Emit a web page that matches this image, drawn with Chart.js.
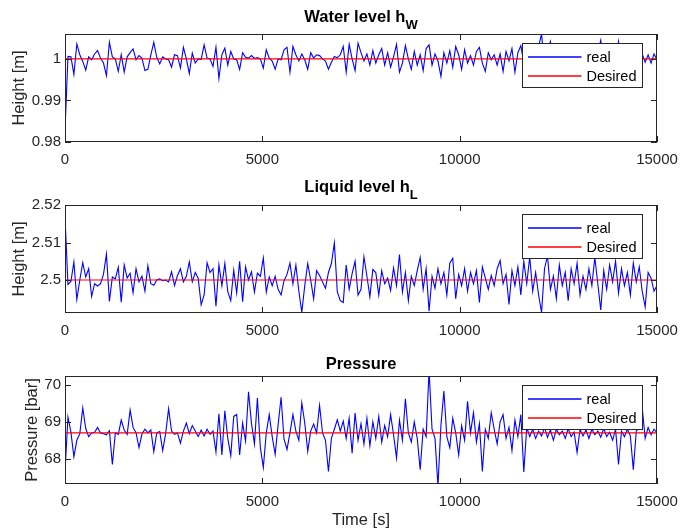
<!DOCTYPE html>
<html>
<head>
<meta charset="utf-8">
<script src="https://cdn.jsdelivr.net/npm/chart.js@4.4.1/dist/chart.umd.min.js"></script>
<style>
  html, body { margin: 0; padding: 0; background: #fff; }
  #wrap { position: relative; width: 681px; height: 532px; overflow: hidden; }
  canvas { position: absolute; left: 0; }
</style>
</head>
<body>
<div id="wrap">
  <canvas id="c1" width="681" height="175" style="top:0px"></canvas>
  <canvas id="c2" width="681" height="170" style="top:175px"></canvas>
  <canvas id="c3" width="681" height="187" style="top:345px"></canvas>
</div>
<script>
// samples every 75 s from 0 to 15000 s
var timeStep = 75;
var xTicks = [0, 5000, 10000, 15000];
var setpointTimes = [0, 15000];

var waterTicks = [0.98, 0.99, 1];
var waterDesired = [1, 1];
var waterLevel = [
  0.9828, 1.0006, 1.0005, 0.9963, 1.0036, 1.0010, 0.9994, 0.9973, 1.0005, 0.9998,
  1.0012, 1.0020, 1.0002, 0.9990, 0.9960, 1.0040, 1.0005, 1.0000, 0.9970, 1.0010,
  0.9968, 1.0005, 1.0015, 1.0024, 0.9998, 1.0008, 1.0002, 0.9972, 0.9975, 1.0010,
  1.0040, 1.0004, 0.9988, 1.0005, 1.0000, 0.9998, 0.9980, 1.0010, 1.0008, 0.9978,
  1.0028, 1.0000, 0.9965, 1.0014, 0.9990, 1.0000, 0.9999, 1.0034, 1.0002, 1.0000,
  0.9982, 1.0028, 0.9953, 1.0010, 1.0026, 0.9985, 1.0018, 1.0000, 0.9998, 0.9975,
  1.0015, 1.0004, 1.0002, 1.0008, 1.0001, 1.0003, 1.0000, 0.9978, 1.0022, 1.0002,
  0.9995, 0.9975, 1.0000, 0.9998, 1.0022, 1.0028, 0.9968, 1.0030, 1.0010, 0.9995,
  1.0012, 0.9998, 0.9975, 1.0015, 1.0002, 1.0010, 1.0008, 1.0000, 0.9995, 0.9975,
  0.9992, 1.0006, 1.0003, 1.0010, 1.0030, 0.9968, 1.0035, 1.0000, 0.9972, 1.0038,
  1.0015, 0.9995, 1.0012, 0.9985, 1.0020, 0.9990, 1.0010, 1.0025, 0.9985, 1.0015,
  0.9980, 1.0005, 1.0035, 0.9968, 0.9990, 1.0032, 1.0000, 0.9975, 1.0018, 0.9985,
  1.0010, 0.9972, 1.0025, 1.0034, 0.9985, 1.0012, 0.9995, 0.9958, 1.0015, 0.9990,
  1.0020, 0.9980, 1.0030, 1.0010, 0.9975, 1.0022, 0.9990, 1.0008, 0.9985, 1.0018,
  1.0028, 0.9990, 0.9970, 1.0015, 0.9998, 1.0010, 0.9985, 1.0012, 0.9970, 1.0018,
  0.9995, 1.0025, 0.9968, 1.0015, 1.0032, 0.9990, 1.0015, 0.9980, 1.0020, 0.9990,
  1.0030, 1.0060, 0.9985, 1.0020, 1.0042, 0.9985, 1.0015, 0.9975, 1.0025, 0.9990,
  1.0012, 0.9980, 1.0020, 0.9995, 1.0025, 0.9975, 1.0010, 0.9990, 1.0030, 0.9985,
  1.0015, 1.0045, 0.9990, 1.0010, 0.9980, 1.0020, 0.9995, 1.0042, 0.9985, 1.0015,
  0.9990, 1.0020, 0.9980, 1.0010, 0.9995, 1.0012, 0.9992, 1.0010, 0.9990, 1.0012,
  0.9998
];

var liquidTicks = [2.5, 2.51, 2.52];
var liquidDesired = [2.5, 2.5];
var liquidLevel = [
  2.5168, 2.4988, 2.4996, 2.5048, 2.4948, 2.5000, 2.5046, 2.5008, 2.5030, 2.4956,
  2.4990, 2.4984, 2.4990, 2.5015, 2.5069, 2.4943, 2.5008, 2.5003, 2.5034, 2.4941,
  2.5040, 2.5005, 2.5018, 2.4966, 2.5030, 2.4995, 2.5010, 2.4970, 2.5038, 2.4990,
  2.4986, 2.5000, 2.5003, 2.4998, 2.5000, 2.4995, 2.5022, 2.4985, 2.5012, 2.5030,
  2.4995, 2.5010, 2.5048, 2.4995, 2.5020, 2.5005, 2.4934, 2.4960, 2.5046, 2.5020,
  2.5030, 2.4930, 2.5040, 2.4985, 2.5044, 2.4968, 2.4945, 2.5026, 2.4965, 2.5050,
  2.4942, 2.5035, 2.5000, 2.5022, 2.4968, 2.5018, 2.5010, 2.5059, 2.4968, 2.5008,
  2.4985, 2.5010, 2.4975, 2.4960, 2.4998, 2.5015, 2.5045, 2.4990, 2.5040, 2.4970,
  2.4914, 2.4985, 2.5044, 2.5000, 2.4950, 2.5025, 2.5012, 2.4995, 2.4978, 2.5020,
  2.5044, 2.5099, 2.4968, 2.4945, 2.4940, 2.5040, 2.4975, 2.5017, 2.5050, 2.4960,
  2.4975, 2.5062, 2.5010, 2.4955, 2.5028, 2.5020, 2.4960, 2.5025, 2.4990, 2.5005,
  2.4972, 2.5032, 2.4985, 2.5068, 2.4968, 2.5020, 2.4945, 2.5010, 2.4985, 2.5025,
  2.5060, 2.4975, 2.5030, 2.4917, 2.5010, 2.4978, 2.5030, 2.4990, 2.5020, 2.4960,
  2.5045, 2.5058, 2.4950, 2.5015, 2.4985, 2.5030, 2.4970, 2.5020, 2.4990, 2.5025,
  2.4940, 2.5035, 2.5005, 2.4975, 2.5012, 2.4985, 2.5030, 2.5052, 2.4990, 2.5015,
  2.4935, 2.5025, 2.4985, 2.5035, 2.4960, 2.5050, 2.4990, 2.5062, 2.4970, 2.5020,
  2.4960, 2.4914, 2.5030, 2.5064, 2.4975, 2.5010, 2.4950, 2.5040, 2.4985, 2.5020,
  2.4945, 2.5030, 2.4990, 2.5045, 2.4960, 2.5010, 2.4975, 2.5030, 2.4985, 2.5060,
  2.4990, 2.4920, 2.5025, 2.4975, 2.5040, 2.4995, 2.5050, 2.4965, 2.5030, 2.4985,
  2.5020, 2.4960, 2.5045, 2.4995, 2.5035, 2.4970, 2.4928, 2.5020, 2.5005, 2.4970,
  2.4985
];

var pressureTicks = [68, 69, 70];
var pressureDesired = [68.7, 68.7];
var pressure = [
  67.65, 69.13, 68.72, 68.05, 68.50, 68.68, 69.38, 68.82, 68.60, 68.70,
  68.72, 68.85, 68.70, 68.68, 68.65, 68.76, 67.84, 68.70, 68.66, 69.05,
  68.78, 68.66, 69.32, 68.85, 68.70, 68.30, 68.67, 68.80, 68.70, 68.78,
  68.19, 68.70, 68.74, 68.22, 68.68, 69.36, 68.75, 68.66, 68.70, 68.42,
  68.75, 68.97, 68.68, 68.90, 68.75, 68.60, 68.78, 68.62, 68.80, 68.66,
  68.75, 68.18, 69.22, 68.10, 69.30, 68.55, 68.08, 69.15, 69.20, 68.10,
  68.97, 68.48, 69.82, 68.96, 68.40, 69.65, 68.30, 67.76, 68.70, 69.20,
  68.60, 68.12, 68.92, 69.67, 68.53, 68.25, 68.70, 69.20, 68.75, 68.50,
  69.52, 68.97, 68.20, 68.75, 68.94, 68.70, 69.45, 68.70, 68.50, 67.65,
  68.55, 68.80, 69.06, 68.75, 69.02, 68.55, 69.10, 68.15, 69.24, 68.50,
  68.95, 68.40, 69.10, 68.35, 69.00, 68.55, 69.15, 68.45, 68.90, 68.60,
  69.20, 68.65, 68.02, 69.05, 68.50, 69.63, 68.70, 68.45, 69.00, 68.55,
  67.70, 68.80, 68.60, 70.40, 68.80, 68.55, 67.25, 68.90, 69.84, 68.60,
  68.30, 69.10, 68.70, 68.10, 68.90, 68.50, 69.56, 68.70, 69.25, 68.45,
  68.95, 67.65, 68.80, 68.55, 69.25, 68.80, 68.40, 69.00, 69.20, 68.55,
  68.85, 68.22, 69.05, 68.60, 69.20, 67.64, 68.85, 68.60, 68.80, 68.55,
  68.75, 68.62, 68.85, 68.58, 68.78, 68.50, 68.80, 68.65, 68.75, 68.55,
  68.82, 68.60, 68.72, 68.17, 68.80, 68.62, 68.78, 68.55, 68.80, 68.65,
  68.75, 68.58, 68.82, 68.60, 68.72, 68.50, 68.80, 67.84, 68.75, 68.60,
  68.80, 68.62, 67.70, 68.75, 68.85, 69.40, 68.55, 68.85, 68.65, 68.80,
  68.70
];

var sampleTimes = waterLevel.map(function(v, i){ return i * timeStep; });

var FONT = '"Liberation Sans", Arial, Helvetica, sans-serif';
var AXIS_COL = '#262626';

function pts(xs, ys) {
  return xs.map(function(x, i){ return { x: x, y: ys[i] }; });
}

// box, inward ticks, legend, titles like a matlab figure
var matlabAxes = {
  id: 'matlabAxes',
  afterDatasetsDraw: function(chart, args, o) {
    var ctx = chart.ctx, a = chart.chartArea;
    var x = chart.scales.x, y = chart.scales.y;
    ctx.save();
    ctx.strokeStyle = AXIS_COL;
    ctx.lineWidth = 1;
    ctx.beginPath();
    x.ticks.forEach(function(t){
      var px = Math.round(x.getPixelForValue(t.value)) + 0.5;
      ctx.moveTo(px, a.bottom); ctx.lineTo(px, a.bottom - 6);
      ctx.moveTo(px, a.top); ctx.lineTo(px, a.top + 6);
    });
    y.ticks.forEach(function(t){
      var py = Math.round(y.getPixelForValue(t.value)) + 0.5;
      ctx.moveTo(a.left, py); ctx.lineTo(a.left + 6, py);
      ctx.moveTo(a.right, py); ctx.lineTo(a.right - 6, py);
    });
    ctx.stroke();
    ctx.strokeRect(a.left + 0.5, a.top + 0.5, a.width - 1, a.height - 1);

    // legend box
    var bw = 120, bh = 44;
    var bx = Math.round(a.right - 15 - bw) + 0.5, by = Math.round(a.top + o.legendTop) + 0.5;
    ctx.fillStyle = '#fff';
    ctx.fillRect(bx, by, bw, bh);
    ctx.strokeRect(bx, by, bw, bh);
    ctx.font = '14.5px ' + FONT;
    ctx.textBaseline = 'middle';
    ctx.textAlign = 'left';
    chart.data.datasets.forEach(function(ds, i){
      var ly = Math.round(by + 13 + i * 19);
      ctx.strokeStyle = ds.borderColor;
      ctx.lineWidth = 1.3;
      ctx.beginPath();
      ctx.moveTo(bx + 5.5, ly); ctx.lineTo(bx + 59, ly);
      ctx.stroke();
      ctx.fillStyle = '#000';
      ctx.fillText(ds.label, bx + 64, ly + 0.5);
    });
    ctx.restore();
  },
  afterDraw: function(chart, args, o) {
    var ctx = chart.ctx, a = chart.chartArea;
    var cx = (a.left + a.right) / 2, cy = (a.top + a.bottom) / 2;
    ctx.save();
    // title with subscript
    ctx.fillStyle = '#000';
    ctx.textBaseline = 'alphabetic';
    ctx.textAlign = 'left';
    ctx.font = 'bold 16.5px ' + FONT;
    var w1 = ctx.measureText(o.title).width;
    ctx.font = 'bold 13px ' + FONT;
    var w2 = o.sub ? ctx.measureText(o.sub).width : 0;
    var sx = cx - (w1 + w2) / 2;
    ctx.font = 'bold 16.5px ' + FONT;
    ctx.fillText(o.title, sx, a.top + o.titleBase);
    if (o.sub) {
      ctx.font = 'bold 13px ' + FONT;
      ctx.fillText(o.sub, sx + w1, a.top + o.titleBase + 7);
    }
    // axis labels
    ctx.fillStyle = AXIS_COL;
    ctx.font = '16.5px ' + FONT;
    ctx.textAlign = 'center';
    ctx.textBaseline = 'middle';
    ctx.save();
    ctx.translate(o.yLabelX, cy);
    ctx.rotate(-Math.PI / 2);
    ctx.fillText(o.yLabel, 0, 0);
    ctx.restore();
    if (o.xLabel) {
      ctx.textBaseline = 'alphabetic';
      ctx.fillText(o.xLabel, cx, a.bottom + 41);
    }
    ctx.restore();
  }
};

function makePanel(id, cfg) {
  var tickFont = { family: FONT, size: 15 };
  return new Chart(document.getElementById(id), {
    type: 'line',
    data: {
      datasets: [
        { label: 'real', data: pts(sampleTimes, cfg.real), borderColor: '#0000ff',
          borderWidth: 1.1, pointRadius: 0, tension: 0, fill: false, order: 2 },
        { label: 'Desired', data: pts(setpointTimes, cfg.desired), borderColor: '#ff0000',
          borderWidth: 1.2, pointRadius: 0, fill: false, order: 1 }
      ]
    },
    options: {
      responsive: false,
      animation: false,
      devicePixelRatio: 1,
      layout: { padding: { top: cfg.padTop, right: 24, bottom: cfg.padBottom, left: 0 } },
      plugins: {
        legend: { display: false },
        tooltip: { enabled: false },
        matlabAxes: cfg.text
      },
      scales: {
        x: {
          type: 'linear', min: 0, max: 15000,
          afterBuildTicks: function(s){ s.ticks = xTicks.map(function(v){ return { value: v }; }); },
          afterFit: function(s){ s.height = cfg.xHeight; s.paddingLeft = 0; s.paddingRight = 0; },
          grid: { display: false, drawTicks: false },
          border: { display: false },
          ticks: { padding: 9, color: AXIS_COL, font: tickFont, maxRotation: 0, autoSkip: false,
                   callback: function(v){ return String(v); } }
        },
        y: {
          type: 'linear', min: cfg.yMin, max: cfg.yMax,
          afterBuildTicks: function(s){ s.ticks = cfg.yTicks.map(function(v){ return { value: v }; }); },
          afterFit: function(s){ s.width = 65; s.paddingTop = 0; s.paddingBottom = 0; },
          grid: { display: false, drawTicks: false },
          border: { display: false },
          ticks: { padding: 4, color: AXIS_COL, font: tickFont,
                   callback: function(v){ return String(v); } }
        }
      }
    },
    plugins: [matlabAxes]
  });
}

makePanel('c1', {
  real: waterLevel, desired: waterDesired, yTicks: waterTicks, yMin: 0.98, yMax: 1.006,
  padTop: 34, padBottom: 3, xHeight: 30,
  text: { title: 'Water level h', sub: 'W', titleBase: -12.5, yLabel: 'Height [m]', yLabelX: 19, legendTop: 8.5 }
});
makePanel('c2', {
  real: liquidLevel, desired: liquidDesired, yTicks: liquidTicks, yMin: 2.4912, yMax: 2.52,
  padTop: 30, padBottom: 2, xHeight: 30,
  text: { title: 'Liquid level h', sub: 'L', titleBase: -13.5, yLabel: 'Height [m]', yLabelX: 19, legendTop: 9 }
});
makePanel('c3', {
  real: pressure, desired: pressureDesired, yTicks: pressureTicks, yMin: 67.31, yMax: 70.25,
  padTop: 31, padBottom: 0, xHeight: 48,
  text: { title: 'Pressure', sub: '', titleBase: -7, yLabel: 'Pressure [bar]', yLabelX: 32,
          xLabel: 'Time [s]', legendTop: 9 }
});
</script>
</body>
</html>
